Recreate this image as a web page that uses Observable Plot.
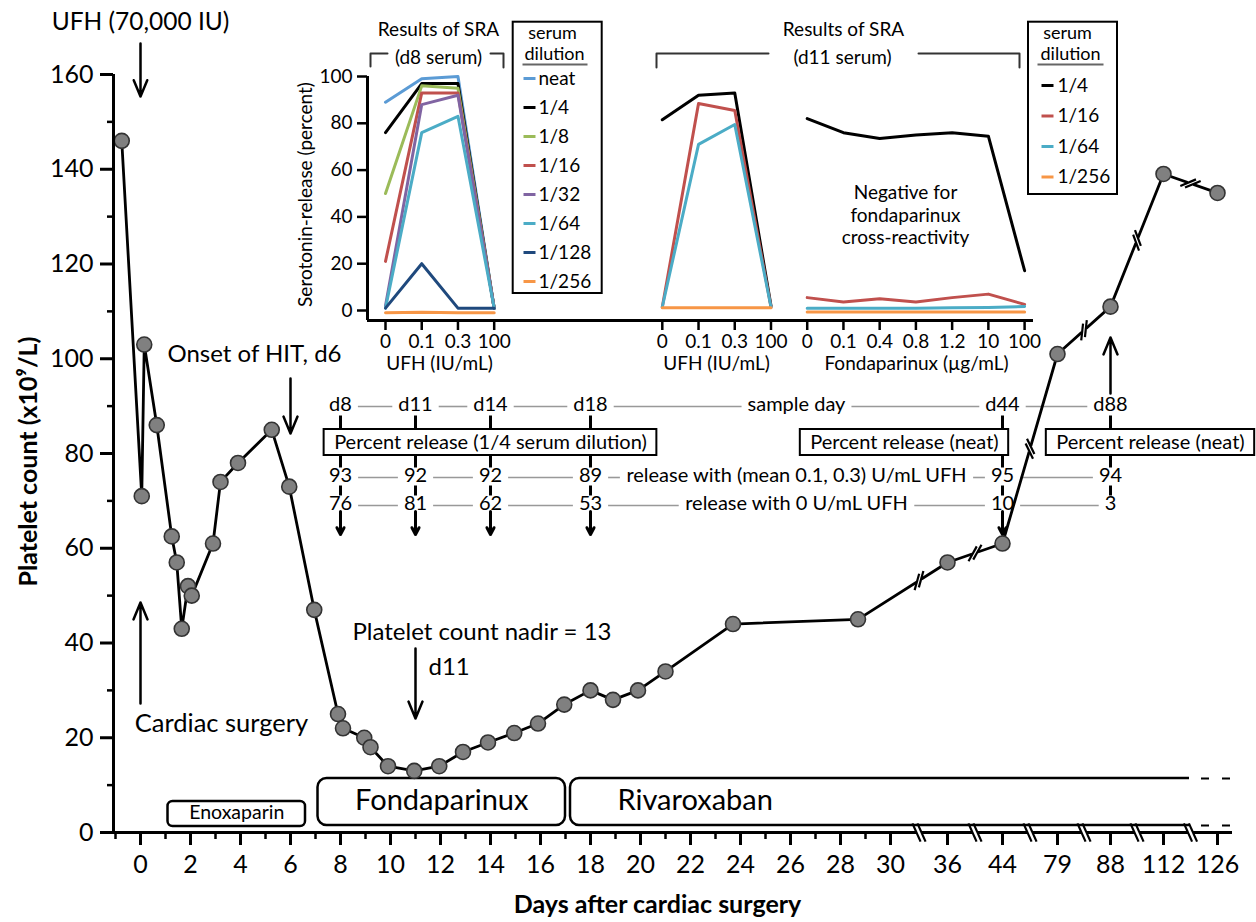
<!DOCTYPE html>
<html>
<head>
<meta charset="utf-8">
<script src="https://cdn.jsdelivr.net/npm/d3@7"></script>
<script src="https://cdn.jsdelivr.net/npm/@observablehq/plot@0.6"></script>
<style>
  html, body { margin: 0; padding: 0; background: #fff; }
  #fig { position: relative; width: 1256px; height: 922px; overflow: hidden; background:#fff; }
  #fig svg { position: absolute; }
</style>
</head>
<body>
<div id="fig"></div>
<script>
const FONT = "Lato, 'DejaVu Sans', sans-serif";

// ================= DATA =================
// Platelet count (x10^9/L) by day after cardiac surgery
const days = [-0.75, 0.05, 0.15, 0.65, 1.25, 1.45, 1.65, 1.9, 2.05, 2.9, 3.2, 3.9, 5.25, 5.95, 6.95,
  7.9, 8.1, 8.95, 9.2, 9.9, 10.95, 11.95, 12.9, 13.9, 14.95, 15.9, 16.95, 18, 18.9, 19.9, 21, 23.7, 28.7,
  36, 44, 79, 88, 112, 126];
const platelets = [146, 71, 103, 86, 62.5, 57, 43, 52, 50, 61, 74, 78, 85, 73, 47,
  25, 22, 20, 18, 14, 13, 14, 17, 19, 21, 23, 27, 30, 28, 30, 34, 44, 45,
  57, 61, 101, 111, 139, 135];

// axis ticks
const xTickDays = [0,2,4,6,8,10,12,14,16,18,20,22,24,26,28,30,36,44,79,88,112,126];
const brokenTickDays = [30,36,44,79,88,112,126];
const yTicks = [0,20,40,60,80,100,120,140,160];

// anticoagulant periods (days)
const drugNames = ["Enoxaparin","Fondaparinux","Rivaroxaban"];
const drugStartDay = [1.1, 7.1, 17.2];
const drugEndDay = [6.6, 17.0, 126];

// SRA results table
const sampleDays = [8,11,14,18,44,88];
const releaseWithUFH = [93,92,92,89,95,94];
const releaseNoUFH = [76,81,62,53,10,3];
const rowMidLabels = ["sample day","release with (mean 0.1, 0.3) U/mL UFH","release with 0 U/mL UFH"];
const boxLabels = ["Percent release (1/4 serum dilution)","Percent release (neat)","Percent release (neat)"];

// Inset: serotonin-release assay
const ufhConc = ["0","0.1","0.3","100"];
const fondaConc = ["0","0.1","0.4","0.8","1.2","10","100"];
const d8Dilutions = ["neat","1/4","1/8","1/16","1/32","1/64","1/128","1/256"];
const d8UfhRelease = [
  [89, 99, 100, 1],
  [76, 97, 97, 1],
  [50, 96, 95, 1],
  [21, 93, 93, 1],
  [2, 88, 92, 1],
  [1, 76, 83, 1],
  [1, 20, 1, 1],
  [-1, -0.7, -1, -1]
];
const d11Dilutions = ["1/4","1/16","1/64","1/256"];
const d11UfhRelease = [
  [81.5, 92, 93, 2],
  [1.5, 88.5, 85.5, 1.5],
  [1.5, 71, 79.5, 1.5],
  [1.2, 1.2, 1.2, 1.2]
];
const d11FondaRelease = [
  [82, 76, 73.5, 75, 76, 74.5, 17],
  [5.5, 3.6, 5, 3.6, 5.5, 7, 2.6],
  [1, 1, 1, 1, 1.2, 1.3, 1.7],
  [-0.6, -0.6, -0.6, -0.6, -0.6, -0.6, -0.6]
];
const dilutionColors = ["#5b9bd5","#000000","#9bbb59","#c0504d","#8064a2","#4bacc6","#1f497d","#f79646"];

// ================= LAYOUT =================
const W = 1256, H = 922;
const ML = 113, MR = 24, MT = 74, MB = 90;
const xDom = [-1.08, 43.68], yDom = [0, 160];
const kx = (W - ML - MR) / (xDom[1] - xDom[0]);
const ky = (H - MT - MB) / (yDom[1] - yDom[0]);
const X = v => ML + (v - xDom[0]) * kx;
const Y = v => H - MB - (v - yDom[0]) * ky;
const mx = px => xDom[0] + (px - ML) / kx;
const my = py => yDom[0] + (H - MB - py) / ky;
const brokenSlots = [30, 32.28, 34.48, 36.68, 38.8, 40.92, 43.08];
const brokenScale = d3.scaleLinear(brokenTickDays, brokenSlots);
const xpos = d => d <= 30 ? d : brokenScale(d);
const P = (px, py, t) => ({x: mx(px), y: my(py), t});

const ctx = document.createElement("canvas").getContext("2d");
const tw = (s, fs, wt = "normal") => { ctx.font = `${wt} ${fs}px Lato`; return ctx.measureText(s).width; };

const deg = Math.PI / 180;
function breakMark(cx, cy, lineAng, markAng, sep, len, gapLen, conv) {
  const u = [Math.cos(lineAng), -Math.sin(lineAng)];
  const v = [Math.cos(markAng), -Math.sin(markAng)];
  const gap = {x1: conv.x(cx - u[0]*gapLen/2), y1: conv.y(cy - u[1]*gapLen/2),
               x2: conv.x(cx + u[0]*gapLen/2), y2: conv.y(cy + u[1]*gapLen/2)};
  const slashes = [-1, 1].map(s => {
    const sx = cx + s*u[0]*sep/2, sy = cy + s*u[1]*sep/2;
    return {x1: conv.x(sx - v[0]*len/2), y1: conv.y(sy - v[1]*len/2),
            x2: conv.x(sx + v[0]*len/2), y2: conv.y(sy + v[1]*len/2)};
  });
  return {gap, slashes};
}
const mconv = {x: mx, y: my};

// ---------- main data ----------
const lineData = days.map((d, i) => ({x: xpos(d), y: platelets[i]}));
const breakSlots = d3.pairs(brokenSlots).map(([a, b]) => (a + b) / 2);

const axisBreaks = breakSlots.map(b => breakMark(X(b), Y(0), 0, -66*deg, 5, 20, 5, mconv));
const lineBreaks = breakSlots.map(b => {
  const i = lineData.findIndex((p, k) => k < lineData.length - 1 && p.x <= b && lineData[k+1].x >= b);
  const a = lineData[i], c = lineData[i+1];
  const p1 = [X(a.x), Y(a.y)], p2 = [X(c.x), Y(c.y)];
  const t = (X(b) - p1[0]) / (p2[0] - p1[0]);
  const cx = p1[0] + t*(p2[0]-p1[0]), cy = p1[1] + t*(p2[1]-p1[1]);
  const ang = Math.atan2(-(p2[1]-p1[1]), p2[0]-p1[0]);
  return breakMark(cx, cy, ang, ang + 42*deg, 5, 17, 6, mconv);
});

const xTickPos = xTickDays.map(xpos);
const xLabelOf = new Map(xTickPos.map((p, i) => [p, String(xTickDays[i])]));
const xMinor = d3.range(-1, 30, 2);
const yMinor = d3.range(10, 160, 20);

// drug boxes
const boxTopPx = [801, 778, 778], boxBotPx = [826, 825, 825];
const drugBoxes = drugNames.map((n, i) => ({
  name: n, x1: xpos(drugStartDay[i]), x2: xpos(drugEndDay[i]), y1: my(boxBotPx[i]), y2: my(boxTopPx[i])
}));

// table
const tblFS = 20;
const colPx = sampleDays.map(d => X(xpos(d)));
const midPx = (colPx[3] + colPx[4]) / 2;
const rowPy = [404, 475, 503];
const rowTexts = [sampleDays.map(d => "d" + d), releaseWithUFH.map(String), releaseNoUFH.map(String)];
const tableText = [];
const connectors = [];
rowTexts.forEach((row, r) => {
  const items = row.map((t, j) => ({c: colPx[j], t}));
  items.splice(4, 0, {c: midPx, t: rowMidLabels[r]});
  items.forEach(it => tableText.push(P(it.c, rowPy[r], it.t)));
  d3.pairs(items).forEach(([a, b]) => {
    const g = 6;
    const s = a.c + tw(a.t, tblFS)/2 + g, e = b.c - tw(b.t, tblFS)/2 - g;
    if (e > s) connectors.push({x1: mx(s), x2: mx(e), y1: my(rowPy[r] + 2), y2: my(rowPy[r] + 2)});
  });
});
const boxCenters = [490, 904, 1150];
const tblBoxes = boxLabels.map((t, i) => {
  const hw = tw(t, tblFS)/2 + 10;
  return {x1: mx(boxCenters[i] - hw), x2: mx(boxCenters[i] + hw), y1: my(455), y2: my(429)};
});
const tblBoxText = boxLabels.map((t, i) => P(boxCenters[i], 442.5, t));
const vticks = [];
colPx.forEach(c => [[415, 429], [455, 467], [485, 495]].forEach(([a, b]) =>
  vticks.push({x1: mx(c), x2: mx(c), y1: my(a), y2: my(b)})));
const downArrows = colPx.slice(0, 5).map(c => ({x1: mx(c), x2: mx(c), y1: my(511), y2: my(534)}));
const upArrows = [{x1: mx(colPx[5]), x2: mx(colPx[5]), y1: my(393), y2: my(337)}];

const annArrows = [
  {x1: 0, x2: 0, y1: my(43), y2: my(96)},
  {x1: 6, x2: 6, y1: my(378), y2: my(433)},
  {x1: 0, x2: 0, y1: my(703), y2: my(602)},
  {x1: 11, x2: 11, y1: my(648), y2: my(718)}
];

const main = Plot.plot({
  width: W, height: H,
  marginLeft: ML, marginRight: MR, marginTop: MT, marginBottom: MB,
  x: {domain: xDom, label: null},
  y: {domain: yDom, label: null},
  style: {fontFamily: FONT, background: "transparent", color: "black"},
  marks: [
    // treatment boxes
    Plot.rect(drugBoxes.slice(0, 1), {x1: "x1", x2: "x2", y1: "y1", y2: "y2", rx: 5, fill: "white", stroke: "black", strokeWidth: 2.5}),
    Plot.rect(drugBoxes.slice(1), {x1: "x1", x2: "x2", y1: "y1", y2: "y2", rx: 9, fill: "white", stroke: "black", strokeWidth: 2.5}),
    Plot.rect([0], {x1: mx(1189), x2: mx(1260), y1: my(829.5), y2: my(772), fill: "white"}),
    Plot.ruleY([my(778), my(825)], {x1: mx(1201), x2: mx(1238), stroke: "black", strokeWidth: 2, strokeDasharray: "8,13"}),
    Plot.text([drugBoxes[0]], {x: d => (d.x1 + d.x2)/2, y: my(812), text: "name", fontSize: 19.5}),
    Plot.text([drugBoxes[1]], {x: d => (d.x1 + d.x2)/2, y: my(800), text: "name", fontSize: 29}),
    Plot.text([drugBoxes[2]], {x: d => mx(X(d.x1) + 47), y: my(800), text: "name", fontSize: 29, textAnchor: "start"}),

    // table
    Plot.link(connectors, {x1: "x1", x2: "x2", y1: "y1", y2: "y2", stroke: "#999", strokeWidth: 1.6}),
    Plot.link(vticks, {x1: "x1", x2: "x2", y1: "y1", y2: "y2", stroke: "black", strokeWidth: 3}),
    Plot.rect(tblBoxes, {x1: "x1", x2: "x2", y1: "y1", y2: "y2", fill: "white", stroke: "black", strokeWidth: 2}),
    Plot.text(tblBoxText, {x: "x", y: "y", text: "t", fontSize: tblFS}),
    Plot.text(tableText, {x: "x", y: "y", text: "t", fontSize: tblFS}),
    Plot.arrow(downArrows, {x1: "x1", x2: "x2", y1: "y1", y2: "y2", stroke: "black", strokeWidth: 3, headLength: 9, headAngle: 55}),
    Plot.arrow(upArrows, {x1: "x1", x2: "x2", y1: "y1", y2: "y2", stroke: "black", strokeWidth: 2.5, headLength: 11, headAngle: 45}),

    // annotations
    Plot.arrow(annArrows, {x1: "x1", x2: "x2", y1: "y1", y2: "y2", stroke: "black", strokeWidth: 2.5, headLength: 11, headAngle: 45}),
    Plot.text([P(140, 22, "UFH (70,000 IU)")], {x: "x", y: "y", text: "t", fontSize: 24.5}),
    Plot.text([P(221, 723, "Cardiac surgery")], {x: "x", y: "y", text: "t", fontSize: 25.5}),
    Plot.text([P(167, 354, "Onset of HIT, d6"), P(352, 632, "Platelet count nadir = 13"), P(428, 667, "d11")],
      {x: "x", y: "y", text: "t", fontSize: 24, textAnchor: "start"}),

    // data line
    Plot.line(lineData, {x: "x", y: "y", stroke: "black", strokeWidth: 2.8}),
    Plot.link(lineBreaks.map(b => b.gap), {x1: "x1", x2: "x2", y1: "y1", y2: "y2", stroke: "white", strokeWidth: 7}),
    Plot.link(lineBreaks.flatMap(b => b.slashes), {x1: "x1", x2: "x2", y1: "y1", y2: "y2", stroke: "black", strokeWidth: 2.2}),
    Plot.dot(lineData, {x: "x", y: "y", r: 7.5, fill: "#808080", stroke: "#333", strokeWidth: 1.6}),

    // axes
    Plot.ruleX([xDom[0]], {y1: 0, y2: 160, stroke: "black", strokeWidth: 3}),
    Plot.ruleY([0], {x1: xDom[0], x2: xDom[1], stroke: "black", strokeWidth: 3}),
    Plot.axisY({ticks: yTicks, tickSize: 13, tickPadding: 7, fontSize: 25, strokeWidth: 3, label: null}),
    Plot.axisY({ticks: yMinor, tickSize: 6, text: null, strokeWidth: 2.5, label: null}),
    Plot.axisX({ticks: xTickPos, tickFormat: d => xLabelOf.get(d), tickSize: 13, tickPadding: 10, fontSize: 25, strokeWidth: 3, label: null}),
    Plot.axisX({ticks: xMinor, tickSize: 7, text: null, strokeWidth: 2.5, label: null}),
    Plot.link(axisBreaks.map(b => b.gap), {x1: "x1", x2: "x2", y1: "y1", y2: "y2", stroke: "white", strokeWidth: 6}),
    Plot.link(axisBreaks.flatMap(b => b.slashes), {x1: "x1", x2: "x2", y1: "y1", y2: "y2", stroke: "black", strokeWidth: 2.2}),

    // axis titles
    Plot.text([P(28, 461, "Platelet count (x10⁹/L)")], {x: "x", y: "y", text: "t", rotate: -90, fontSize: 25, fontWeight: "bold"}),
    Plot.text([P(657, 904, "Days after cardiac surgery")], {x: "x", y: "y", text: "t", fontSize: 25, fontWeight: "bold"})
  ]
});
main.style.left = "0px"; main.style.top = "0px";
document.getElementById("fig").appendChild(main);

// ================= INSET =================
const iS = 36.23, iX0 = 385, iKy = 2.34, iY0 = 310;
const IL = 280, IT = 0, IW = 880, IH = 385;
const ix = px => (px - iX0) / iS;
const iy = py => (iY0 - py) / iKy;
const Q = (px, py, t) => ({x: ix(px), y: iy(py), t});
const panelOffset = [0, 7.64, 11.64];
const ixDom = [ix(367), ix(1033)];
const iyDom = [iy(320), 100];
const iML = 367 - IL, iMR = IL + IW - 1033, iMT = (iY0 - 100*iKy) - IT, iMB = IT + IH - 320;

const insetRows = [];
d8Dilutions.forEach((dil, k) => ufhConc.forEach((c, i) =>
  insetRows.push({g: "a" + dil, slot: panelOffset[0] + i, v: d8UfhRelease[k][i], dil})));
d11Dilutions.forEach((dil, k) => {
  ufhConc.forEach((c, i) => insetRows.push({g: "b" + dil, slot: panelOffset[1] + i, v: d11UfhRelease[k][i], dil}));
  fondaConc.forEach((c, i) => insetRows.push({g: "c" + dil, slot: panelOffset[2] + i, v: d11FondaRelease[k][i], dil}));
});
const insetTicks = [
  ...ufhConc.map((c, i) => [panelOffset[0] + i, c]),
  ...ufhConc.map((c, i) => [panelOffset[1] + i, c]),
  ...fondaConc.map((c, i) => [panelOffset[2] + i, c])
];
const insetLabelOf = new Map(insetTicks);

const leg1 = d8Dilutions.map((d, i) => ({dil: d, y: iy(78 + 29*i)}));
const leg2 = d11Dilutions.map((d, i) => ({dil: d, y: iy(85 + 30.5*i)}));
const brackets = [
  [[370, 66], [370, 53], [387, 53]], [[490, 53], [503, 53], [503, 67]],
  [[656, 67], [656, 53], [768, 53]], [[918, 53], [1019, 53], [1019, 67]]
].flatMap((pts, k) => pts.map(([a, b]) => ({x: ix(a), y: iy(b), k})));

const ISF = 19;
const inset = Plot.plot({
  width: IW, height: IH,
  marginLeft: iML, marginRight: iMR, marginTop: iMT, marginBottom: iMB,
  x: {domain: ixDom, label: null},
  y: {domain: iyDom, label: null},
  color: {type: "ordinal", domain: d8Dilutions, range: dilutionColors},
  style: {fontFamily: FONT, background: "transparent", color: "black"},
  marks: [
    Plot.line(insetRows, {x: "slot", y: "v", z: "g", stroke: "dil", strokeWidth: 3}),
    Plot.ruleX([ixDom[0]], {y1: iyDom[0], y2: 100, stroke: "black", strokeWidth: 3}),
    Plot.ruleY([iyDom[0]], {x1: ixDom[0], x2: ixDom[1], stroke: "black", strokeWidth: 3}),
    Plot.axisY({ticks: [0, 20, 40, 60, 80, 100], tickSize: 10, tickPadding: 5, fontSize: ISF, strokeWidth: 2.5, label: null}),
    Plot.axisX({ticks: insetTicks.map(d => d[0]), tickFormat: d => insetLabelOf.get(d), tickSize: 10, tickPadding: 4, fontSize: ISF, strokeWidth: 2.5, label: null}),
    Plot.text([Q(305, 194, "Serotonin-release (percent)")], {x: "x", y: "y", text: "t", rotate: -90, fontSize: ISF}),
    Plot.text([Q(439, 362, "UFH (IU/mL)"), Q(716, 362, "UFH (IU/mL)"), Q(916, 362, "Fondaparinux (µg/mL)"),
               Q(438, 28, "Results of SRA"), Q(438, 56, "(d8 serum)"),
               Q(843, 28, "Results of SRA"), Q(842, 56, "(d11 serum)"),
               Q(905, 214, "Negative for\nfondaparinux\ncross-reactivity")],
      {x: "x", y: "y", text: "t", fontSize: ISF, lineHeight: 1.18}),
    Plot.line(brackets, {x: "x", y: "y", z: "k", stroke: "#333", strokeWidth: 2}),
    // legend 1
    Plot.rect([0], {x1: ix(512.7), x2: ix(601.7), y1: iy(293), y2: iy(21.7), fill: "white", stroke: "black", strokeWidth: 2}),
    Plot.text([Q(552, 33, "serum"), Q(554, 54, "dilution")], {x: "x", y: "y", text: "t", fontSize: 18}),
    Plot.link([0], {x1: ix(522), x2: ix(587), y1: iy(64), y2: iy(64), stroke: "#666", strokeWidth: 2}),
    Plot.link(leg1, {x1: ix(523), x2: ix(535), y1: "y", y2: "y", stroke: "dil", strokeWidth: 3}),
    Plot.text(leg1, {x: ix(538), y: "y", text: "dil", fontSize: ISF, textAnchor: "start"}),
    // legend 2
    Plot.rect([0], {x1: ix(1028), x2: ix(1117), y1: iy(194), y2: iy(21.7), fill: "white", stroke: "black", strokeWidth: 2}),
    Plot.text([Q(1067, 33, "serum"), Q(1070, 54, "dilution")], {x: "x", y: "y", text: "t", fontSize: 18}),
    Plot.link([0], {x1: ix(1037), x2: ix(1103), y1: iy(64), y2: iy(64), stroke: "#666", strokeWidth: 2}),
    Plot.link(leg2, {x1: ix(1041), x2: ix(1053), y1: "y", y2: "y", stroke: "dil", strokeWidth: 3}),
    Plot.text(leg2, {x: ix(1057), y: "y", text: "dil", fontSize: ISF, textAnchor: "start"})
  ]
});
inset.style.left = IL + "px"; inset.style.top = IT + "px";
document.getElementById("fig").appendChild(inset);
</script>
</body>
</html>
